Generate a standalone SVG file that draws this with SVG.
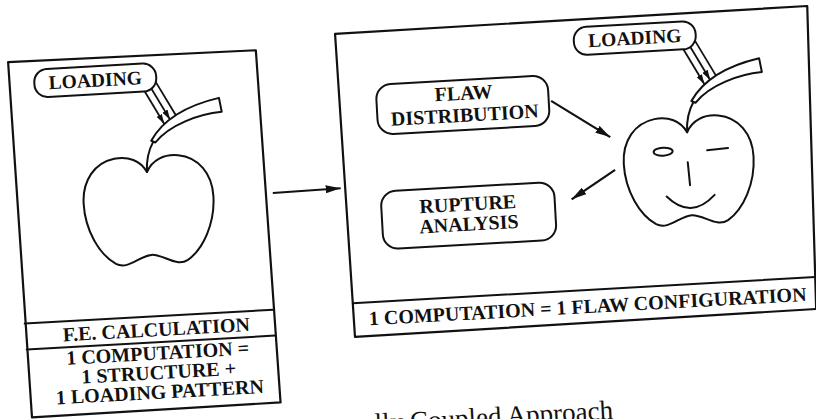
<svg xmlns="http://www.w3.org/2000/svg" width="816" height="419" viewBox="0 0 816 419">
  <defs>
    <style>
      .box { fill: #fff; stroke: #111; stroke-width: 2.2; stroke-linejoin: round; }
      .pill { fill: #fff; stroke: #111; stroke-width: 2; }
      .ln { fill: none; stroke: #111; stroke-width: 2; stroke-linecap: round; stroke-linejoin: round; }
      .band { fill: #fff; stroke: #111; stroke-width: 2; stroke-linejoin: round; }
      .load { fill: none; stroke: #111; stroke-width: 1.8; }
      .conn { fill: none; stroke: #111; stroke-width: 2.2; }
      .lbl { font-family: "Liberation Serif", "Times New Roman", serif; font-weight: bold; font-size: 20px; fill: #111; text-anchor: middle; }
      .tag { font-family: "Liberation Serif", "Times New Roman", serif; font-weight: bold; font-size: 19.5px; fill: #111; text-anchor: middle; }
      .cap { font-family: "Liberation Serif", "Times New Roman", serif; font-size: 27px; fill: #111; }
    </style>
    <marker id="head" viewBox="0 0 15 8" refX="15" refY="4" markerWidth="15" markerHeight="8" markerUnits="userSpaceOnUse" orient="auto">
      <path d="M0,0 L15,4 L0,8 Z" fill="#111"/>
    </marker>
    <marker id="tip" viewBox="0 0 10 6" refX="10" refY="3" markerWidth="10" markerHeight="6" markerUnits="userSpaceOnUse" orient="auto">
      <path d="M0,0 L10,3 L0,6 Z" fill="#111"/>
    </marker>
    <!-- apple with stem and the three load arrows; origin at the stem notch -->
    <g id="apple">
      <path class="ln" d="M0,0 C-6,-12 -18,-17 -32,-15 C-52,-12 -65,5 -65,28 C-65,55 -52,80 -36,90 C-24,97 -12,83 0,83 C12,83 24,97 36,90 C52,80 65,55 65,28 C65,5 52,-12 32,-15 C18,-17 6,-12 0,0 Z"/>
      <path class="ln" d="M0,0 C0,-12 3,-22 8,-30"/>
      <line class="load" x1="-1" y1="-86.7" x2="20" y2="-47" marker-end="url(#tip)"/>
      <line class="load" x1="5" y1="-90.7" x2="26" y2="-51" marker-end="url(#tip)"/>
      <line class="load" x1="11" y1="-94.7" x2="32" y2="-55"/>
      <path class="band" d="M6,-31 C18,-50 42,-64 76,-70 L78,-56 C55,-55 25,-46 10,-29 Z"/>
    </g>
  </defs>

  <rect x="0" y="0" width="816" height="419" fill="#fff"/>

  <g transform="rotate(-3.2 408 210)">
    <!-- left panel: finite element calculation -->
    <g id="fe-panel">
      <path class="box" d="M17,40 L265,42 L270,395 L21,396 Z"/>
      <line class="ln" x1="19" y1="302" x2="268" y2="302"/>
      <line class="ln" x1="19.5" y1="328" x2="268.5" y2="328"/>
      <text class="lbl" x="150" y="322">F.E. CALCULATION</text>
      <text class="lbl" x="150" y="345.5">1 COMPUTATION =</text>
      <text class="lbl" x="150" y="365">1 STRUCTURE +</text>
      <text class="lbl" x="150" y="384.5">1 LOADING PATTERN</text>
    </g>

    <g id="fe-apple">
      <use href="#apple" transform="translate(149.5 157.5)"/>
      <rect class="pill" x="42" y="49" width="122" height="28" rx="13"/>
      <text class="tag" x="103" y="69.5">LOADING</text>
    </g>

    <!-- right panel: flaw configuration -->
    <g id="flaw-panel">
      <path class="box" d="M345,30 L818,28.6 L810,331.6 L348,333.8 Z"/>
      <line class="ln" x1="347.7" y1="300" x2="810.8" y2="299.7"/>
      <text class="lbl" x="582" y="323">1 COMPUTATION = 1 FLAW CONFIGURATION</text>
    </g>

    <g id="flaw-distribution">
      <rect class="pill" x="382.6" y="83.2" width="172" height="50" rx="15"/>
      <text class="lbl" x="470" y="103">FLAW</text>
      <text class="lbl" x="470" y="125">DISTRIBUTION</text>
    </g>

    <g id="rupture-analysis">
      <rect class="pill" x="381.5" y="190" width="173.5" height="58" rx="15"/>
      <text class="lbl" x="468" y="214">RUPTURE</text>
      <text class="lbl" x="468" y="234">ANALYSIS</text>
    </g>

    <g id="face-apple">
      <g transform="translate(691 148)">
        <use href="#apple"/>
        <ellipse class="ln" cx="-25" cy="18" rx="9.5" ry="4"/>
        <line class="ln" x1="19" y1="19" x2="40" y2="18"/>
        <line class="ln" x1="-1" y1="30" x2="0" y2="53"/>
        <path class="ln" d="M-24,63 Q-1,88 24,64"/>
      </g>
      <rect class="pill" x="583" y="37" width="122" height="28" rx="13"/>
      <text class="tag" x="644" y="57.5">LOADING</text>
    </g>

    <g id="connectors">
      <line class="conn" x1="274" y1="185.5" x2="342" y2="184.5" marker-end="url(#head)"/>
      <line class="conn" x1="557" y1="109" x2="614" y2="148.5" marker-end="url(#head)"/>
      <line class="conn" x1="617" y1="181.5" x2="572" y2="208.5" marker-end="url(#head)"/>
    </g>

    <!-- caption line, clipped by the bottom edge -->
    <text class="cap" x="363" y="430">lly Coupled Approach</text>
  </g>
</svg>
